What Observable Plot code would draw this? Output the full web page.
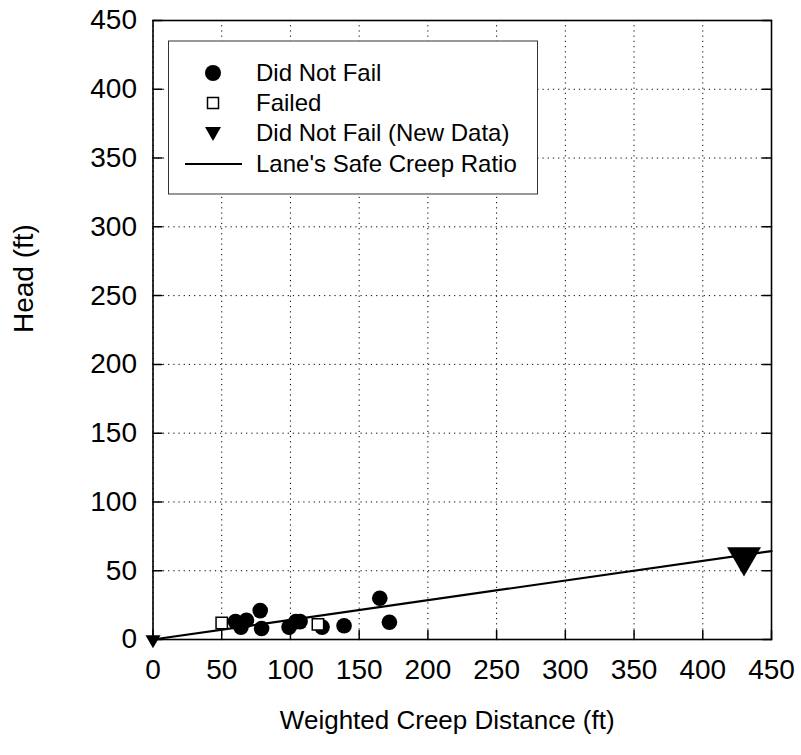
<!DOCTYPE html>
<html>
<head>
<meta charset="utf-8">
<script src="https://cdn.jsdelivr.net/npm/d3@7"></script>
<script src="https://cdn.jsdelivr.net/npm/@observablehq/plot@0.6"></script>
<style>
  body { margin: 0; background: #fff; font-family: "Liberation Sans", Arial, sans-serif; }
  #wrap { position: relative; width: 801px; height: 755px; }
  #legend { position: absolute; left: 0; top: 0; pointer-events: none; }
</style>
</head>
<body>
<div id="wrap"></div>
<script>
// ---- data ----
const axisTicks = [0, 50, 100, 150, 200, 250, 300, 350, 400, 450];
const xTitle = "Weighted Creep Distance (ft)";
const yTitle = "Head (ft)";

const didNotFailX = [60, 64, 68, 78, 79, 99, 104, 107, 123, 139, 165, 172];
const didNotFailY = [13, 9, 14, 21, 8, 9, 13, 13, 9, 10, 30, 12.5];

const failedX = [50, 120];
const failedY = [12, 11];

const newDataX = [0, 430];
const newDataY = [0, 60];

const laneX = [0, 450];
const laneY = [0, 450 / 7];

const legendLabels = ["Did Not Fail", "Failed", "Did Not Fail (New Data)", "Lane's Safe Creep Ratio"];

// ---- tables ----
const toRows = (xs, ys) => xs.map((x, i) => ({x, y: ys[i], i}));
const didNotFail = toRows(didNotFailX, didNotFailY);
const failed = toRows(failedX, failedY);
const newData = toRows(newDataX, newDataY);
const lane = toRows(laneX, laneY);

const tickShape = {draw(context, l) { context.moveTo(0, 0); context.lineTo(0, -l); }};
const font = "'Liberation Sans', Arial, sans-serif";

const chart = Plot.plot({
  width: 801,
  height: 755,
  marginLeft: 152.5,
  marginRight: 30,
  marginTop: 20,
  marginBottom: 116,
  x: {domain: [0, 450]},
  y: {domain: [0, 450]},
  r: {type: "identity"},
  style: {fontFamily: font, fontSize: "28px", color: "#000", background: "#fff", overflow: "visible"},
  marks: [
    Plot.gridX(axisTicks, {stroke: "#000", strokeOpacity: 1, strokeWidth: 1, strokeDasharray: "1.2,4"}),
    Plot.gridY(axisTicks, {stroke: "#000", strokeOpacity: 1, strokeWidth: 1, strokeDasharray: "1.2,4"}),
    Plot.axisX(axisTicks, {anchor: "bottom", tickSize: 0, tickPadding: 20, fontSize: 28, label: null, tickFormat: d => String(d)}),
    Plot.axisY(axisTicks, {anchor: "left", tickSize: 0, tickPadding: 16, fontSize: 28, label: null, tickFormat: d => String(d)}),
    Plot.text([xTitle], {frameAnchor: "bottom", text: d => d, dy: 89, dx: -15, fontSize: 26}),
    Plot.text([yTitle], {frameAnchor: "left", text: d => d, dx: -129, dy: 3, rotate: -90, fontSize: 28}),
    Plot.line(lane, {x: "x", y: "y", stroke: "#000", strokeWidth: 2.2}),
    Plot.dot(didNotFail, {x: "x", y: "y", symbol: "circle", r: 7.8, fill: "#000", stroke: null}),
    Plot.dot(failed, {x: "x", y: "y", symbol: "square", r: 6.4, fill: "#fff", stroke: "#000", strokeWidth: 1.5}),
    Plot.dot(newData, {x: "x", y: "y", symbol: "triangle", rotate: 180, r: d => d.i === 0 ? 5.6 : 12.6, fill: "#000", stroke: null}),
    Plot.frame({stroke: "#000", strokeWidth: 1.6}),
    Plot.vector(axisTicks, {x: d => d, y: () => 0, length: 9, rotate: 0, anchor: "start", shape: tickShape, stroke: "#000", strokeWidth: 1.5}),
    Plot.vector(axisTicks, {x: () => 0, y: d => d, length: 9, rotate: 90, anchor: "start", shape: tickShape, stroke: "#000", strokeWidth: 1.5}),
    Plot.vector(axisTicks, {x: () => 450, y: d => d, length: 9, rotate: -90, anchor: "start", shape: tickShape, stroke: "#000", strokeWidth: 1.5})
  ]
});
document.getElementById("wrap").appendChild(chart);

// ---- legend (overlay inside the plot frame) ----
const svg = d3.select("#wrap").append("svg")
  .attr("id", "legend").attr("width", 801).attr("height", 755);
svg.append("rect").attr("x", 168.5).attr("y", 41).attr("width", 369).attr("height", 153)
  .attr("fill", "#fff").attr("stroke", "#333").attr("stroke-width", 1);
const rowsY = [73, 103, 133, 164];
const sx = 213;
svg.append("circle").attr("cx", sx).attr("cy", rowsY[0]).attr("r", 8).attr("fill", "#000");
svg.append("rect").attr("x", sx - 5.5).attr("y", rowsY[1] - 5.5).attr("width", 11).attr("height", 11)
  .attr("fill", "#fff").attr("stroke", "#000").attr("stroke-width", 1.5);
svg.append("path").attr("d", `M${sx - 8},${rowsY[2] - 6} L${sx + 8},${rowsY[2] - 6} L${sx},${rowsY[2] + 8} Z`).attr("fill", "#000");
svg.append("line").attr("x1", 185).attr("x2", 242).attr("y1", rowsY[3]).attr("y2", rowsY[3])
  .attr("stroke", "#000").attr("stroke-width", 2);
legendLabels.forEach((t, i) => {
  svg.append("text").attr("x", 256).attr("y", rowsY[i]).attr("dy", "0.35em")
    .attr("font-family", font).attr("font-size", 24).attr("fill", "#000").text(t);
});
</script>
</body>
</html>
